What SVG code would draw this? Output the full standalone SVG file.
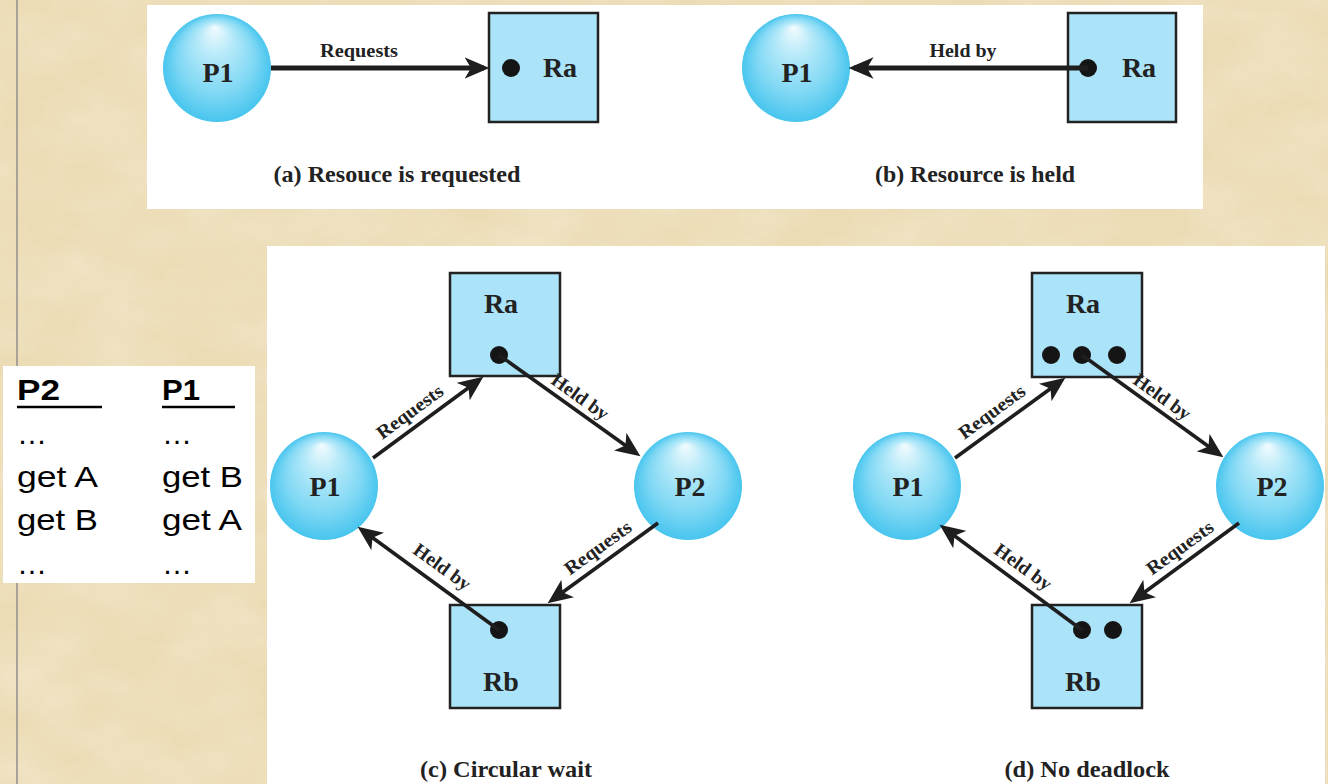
<svg xmlns="http://www.w3.org/2000/svg" width="1328" height="784" viewBox="0 0 1328 784">
<style>
.panel{fill:#ffffff}
.proc{fill:url(#ball)}
.res{fill:#abe3f8;stroke:#222;stroke-width:2.5}
.dot{fill:#151515}
.lbl{font-family:"Liberation Serif","Times New Roman",serif;font-weight:bold;fill:#222}
.node{font-size:28px;text-anchor:middle}
.edge{font-size:19px;text-anchor:middle}
.cap{font-size:23px;text-anchor:middle}
.code{font-family:"Liberation Sans",Arial,sans-serif;font-size:30px;fill:#000}
.conn{fill:none;stroke:#1e1e1e;stroke-width:3.6}
.conn.thick{stroke-width:5}
</style>
<defs>
<radialGradient id="ball" cx="0.5" cy="0.5" r="0.5" fx="0.48" fy="0.12">
<stop offset="0" stop-color="#f2fbfe"/>
<stop offset="0.3" stop-color="#b8eaf9"/>
<stop offset="0.7" stop-color="#80d8f4"/>
<stop offset="1" stop-color="#48c5ee"/>
</radialGradient>
<marker id="ah" markerUnits="userSpaceOnUse" markerWidth="26" markerHeight="22" viewBox="0 0 24 20" refX="18" refY="10" orient="auto">
<path d="M0,0 L23,10 L0,20 L6,10 Z" fill="#1e1e1e"/>
</marker>
<filter id="marble" x="0" y="0" width="100%" height="100%">
<feTurbulence type="fractalNoise" baseFrequency="0.012 0.02" numOctaves="4" seed="7" result="n"/>
<feColorMatrix in="n" type="matrix" values="0 0 0 0 0.93  0 0 0 0 0.85  0 0 0 0 0.69  -1.4 0 0 0 0.95"/>
</filter>
</defs>
<rect id="background" x="0" y="0" width="1328" height="784" fill="#ecdcb6"/>
<rect x="0" y="0" width="1328" height="784" filter="url(#marble)" opacity="0.55"/>
<line x1="17" y1="0" x2="17" y2="784" stroke="#a8a298" stroke-width="2"/>
<rect class="panel" x="147" y="5" width="1056" height="204"/>
<rect class="panel" x="267" y="246" width="1058" height="538"/>
<g id="code-box">
<rect class="panel" x="3" y="366" width="252" height="217"/>
<text class="code" x="17" y="400" font-weight="bold" textLength="43" lengthAdjust="spacingAndGlyphs">P2</text>
<line x1="17" y1="407" x2="102" y2="407" stroke="#000" stroke-width="2.5"/>
<text class="code" x="162" y="400" font-weight="bold" textLength="38" lengthAdjust="spacingAndGlyphs">P1</text>
<line x1="162" y1="407" x2="235" y2="407" stroke="#000" stroke-width="2.5"/>
<text class="code" x="17" y="444">…</text>
<text class="code" x="162" y="444">…</text>
<text class="code" x="17" y="487" textLength="81" lengthAdjust="spacingAndGlyphs">get A</text>
<text class="code" x="162" y="487" textLength="81" lengthAdjust="spacingAndGlyphs">get B</text>
<text class="code" x="17" y="530" textLength="81" lengthAdjust="spacingAndGlyphs">get B</text>
<text class="code" x="162" y="530" textLength="80" lengthAdjust="spacingAndGlyphs">get A</text>
<text class="code" x="17" y="574">…</text>
<text class="code" x="162" y="574">…</text>
</g>
<g id="nodes-a">
<g id="a-P1"><circle class="proc" cx="217" cy="68" r="54"/><text class="lbl node" x="218" y="82">P1</text></g>
<g id="a-Ra"><rect class="res" x="489" y="13" width="109" height="109"/><circle class="dot" cx="511" cy="68" r="9"/><text class="lbl node" x="560" y="77" font-size="26">Ra</text></g>
<text class="lbl cap" x="397" y="182" textLength="247" lengthAdjust="spacingAndGlyphs">(a) Resouce is requested</text>
</g>
<g id="nodes-b">
<g id="b-P1"><circle class="proc" cx="796" cy="68" r="54"/><text class="lbl node" x="797" y="82">P1</text></g>
<g id="b-Ra"><rect class="res" x="1068" y="13" width="108" height="109"/><circle class="dot" cx="1088" cy="68" r="9"/><text class="lbl node" x="1139" y="77" font-size="26">Ra</text></g>
<text class="lbl cap" x="975" y="182" textLength="200" lengthAdjust="spacingAndGlyphs">(b) Resource is held</text>
</g>
<g id="nodes-c">
<g id="c-Ra"><rect class="res" x="450" y="273" width="110" height="103"/><text class="lbl node" x="501" y="313" font-size="26">Ra</text><circle class="dot" cx="499" cy="355" r="9"/></g>
<g id="c-P1"><circle class="proc" cx="324" cy="486" r="54"/><text class="lbl node" x="325" y="496">P1</text></g>
<g id="c-P2"><circle class="proc" cx="688" cy="486" r="54"/><text class="lbl node" x="690" y="496">P2</text></g>
<g id="c-Rb"><rect class="res" x="450" y="605" width="110" height="103"/><circle class="dot" cx="499" cy="630" r="9"/><text class="lbl node" x="501" y="691" font-size="26">Rb</text></g>
<text class="lbl cap" x="506" y="777" textLength="172" lengthAdjust="spacingAndGlyphs">(c) Circular wait</text>
</g>
<g id="nodes-d">
<g id="d-Ra"><rect class="res" x="1032" y="273" width="110" height="104"/><text class="lbl node" x="1083" y="313" font-size="26">Ra</text><circle class="dot" cx="1051" cy="355" r="9"/><circle class="dot" cx="1082" cy="355" r="9"/><circle class="dot" cx="1117" cy="355" r="9"/></g>
<g id="d-P1"><circle class="proc" cx="907" cy="486" r="54"/><text class="lbl node" x="908" y="496">P1</text></g>
<g id="d-P2"><circle class="proc" cx="1270" cy="486" r="54"/><text class="lbl node" x="1272" y="496">P2</text></g>
<g id="d-Rb"><rect class="res" x="1032" y="605" width="110" height="103"/><circle class="dot" cx="1082" cy="630" r="9"/><circle class="dot" cx="1113" cy="630" r="9"/><text class="lbl node" x="1083" y="691" font-size="26">Rb</text></g>
<text class="lbl cap" x="1087" y="777" textLength="165" lengthAdjust="spacingAndGlyphs">(d) No deadlock</text>
</g>
<g id="connectors">
<path class="conn thick" d="M271,68 L484,68" marker-end="url(#ah)"/>
<text class="lbl edge" x="359" y="57" textLength="78" lengthAdjust="spacingAndGlyphs">Requests</text>
<path class="conn thick" d="M1088,68 L854,68" marker-end="url(#ah)"/>
<text class="lbl edge" x="963" y="57" textLength="67" lengthAdjust="spacingAndGlyphs">Held by</text>

<path class="conn" d="M373,458 L479,380" marker-end="url(#ah)"/>
<text class="lbl edge" transform="translate(410,412) rotate(-36.4)" x="0" y="6" textLength="78" lengthAdjust="spacingAndGlyphs">Requests</text>
<path class="conn" d="M499,355 L636,453" marker-end="url(#ah)"/>
<text class="lbl edge" transform="translate(580,397) rotate(35.6)" x="0" y="6" textLength="66" lengthAdjust="spacingAndGlyphs">Held by</text>
<path class="conn" d="M499,630 L362,530" marker-end="url(#ah)"/>
<text class="lbl edge" transform="translate(442,567) rotate(36)" x="0" y="6" textLength="66" lengthAdjust="spacingAndGlyphs">Held by</text>
<path class="conn" d="M658,523 L552,600" marker-end="url(#ah)"/>
<text class="lbl edge" transform="translate(598,548) rotate(-36)" x="0" y="6" textLength="78" lengthAdjust="spacingAndGlyphs">Requests</text>

<path class="conn" d="M955,458 L1061,381" marker-end="url(#ah)"/>
<text class="lbl edge" transform="translate(992,412) rotate(-36.4)" x="0" y="6" textLength="78" lengthAdjust="spacingAndGlyphs">Requests</text>
<path class="conn" d="M1082,355 L1219,454" marker-end="url(#ah)"/>
<text class="lbl edge" transform="translate(1162,397) rotate(35.6)" x="0" y="6" textLength="66" lengthAdjust="spacingAndGlyphs">Held by</text>
<path class="conn" d="M1082,630 L944,528" marker-end="url(#ah)"/>
<text class="lbl edge" transform="translate(1023,567) rotate(36)" x="0" y="6" textLength="66" lengthAdjust="spacingAndGlyphs">Held by</text>
<path class="conn" d="M1239,523 L1134,600" marker-end="url(#ah)"/>
<text class="lbl edge" transform="translate(1180,548) rotate(-36)" x="0" y="6" textLength="78" lengthAdjust="spacingAndGlyphs">Requests</text>
</g>
</svg>
